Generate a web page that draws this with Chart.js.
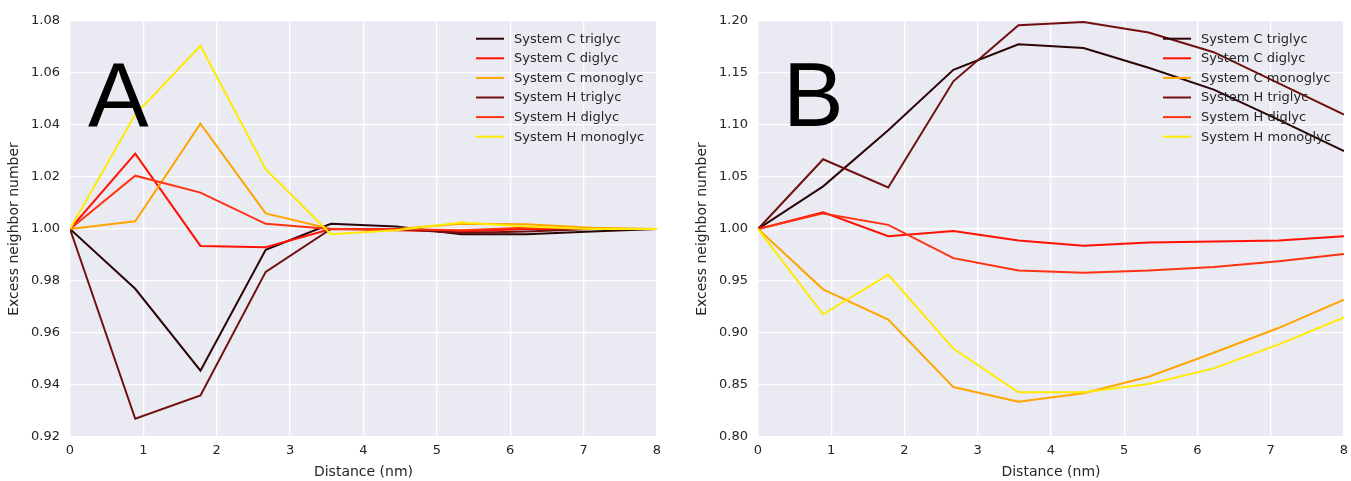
<!DOCTYPE html>
<html>
<head>
<meta charset="utf-8">
<script src="https://cdn.jsdelivr.net/npm/chart.js@4.4.1/dist/chart.umd.min.js"></script>
<style>
  html, body { margin: 0; padding: 0; background: #ffffff; }
  body { width: 1351px; height: 481px; position: relative; overflow: hidden; }
  .panel { position: absolute; top: 0; height: 481px; }
  #wrapA { left: 0; width: 675px; }
  #wrapB { left: 688px; width: 663px; }
</style>
</head>
<body>
<div class="panel" id="wrapA"><canvas id="chartA"></canvas></div>
<div class="panel" id="wrapB"><canvas id="chartB"></canvas></div>
<script>
// ---- data ----
const distances = [0, 0.889, 1.778, 2.667, 3.556, 4.444, 5.333, 6.222, 7.111, 8];
const seriesNames = ["System C triglyc", "System C diglyc", "System C monoglyc",
                     "System H triglyc", "System H diglyc", "System H monoglyc"];
const seriesColors = ["#2a0505", "#ff1205", "#ffa500", "#701010", "#ff3212", "#ffea00"];

// Panel A
const aCTriglyc  = [1.000, 0.977, 0.9455, 0.992, 1.002, 1.001, 0.998, 0.998, 0.999, 1.000];
const aCDiglyc   = [1.000, 1.029, 0.9935, 0.993, 1.000, 0.9995, 0.999, 1.000, 1.000, 1.000];
const aCMonoglyc = [1.000, 1.003, 1.0405, 1.006, 1.000, 1.000, 1.002, 1.0018, 1.0005, 1.000];
const aHTriglyc  = [1.000, 0.927, 0.936, 0.9835, 1.000, 1.000, 0.9985, 0.999, 1.000, 1.000];
const aHDiglyc   = [1.000, 1.0205, 1.014, 1.002, 1.000, 1.000, 0.9995, 1.0005, 1.000, 1.000];
const aHMonoglyc = [1.000, 1.044, 1.0705, 1.023, 0.998, 0.9995, 1.0025, 1.001, 1.000, 1.000];

// Panel B
const bCTriglyc  = [1.000, 1.041, 1.095, 1.153, 1.1776, 1.174, 1.155, 1.134, 1.105, 1.075];
const bCDiglyc   = [1.000, 1.016, 0.993, 0.998, 0.989, 0.984, 0.987, 0.988, 0.989, 0.993];
const bCMonoglyc = [1.000, 0.942, 0.913, 0.848, 0.834, 0.842, 0.858, 0.881, 0.905, 0.932];
const bHTriglyc  = [1.000, 1.067, 1.040, 1.142, 1.196, 1.199, 1.189, 1.170, 1.140, 1.110];
const bHDiglyc   = [1.000, 1.015, 1.004, 0.972, 0.960, 0.958, 0.960, 0.9635, 0.969, 0.976];
const bHMonoglyc = [1.000, 0.918, 0.956, 0.885, 0.843, 0.843, 0.851, 0.866, 0.889, 0.915];

const xTicks = [0, 1, 2, 3, 4, 5, 6, 7, 8];
const aYTicks = [0.92, 0.94, 0.96, 0.98, 1.00, 1.02, 1.04, 1.06, 1.08];
const bYTicks = [0.80, 0.85, 0.90, 0.95, 1.00, 1.05, 1.10, 1.15, 1.20];

const xTitle = "Distance (nm)";
const yTitle = "Excess neighbor number";

// ---- drawing ----
const TEXT = "#262626";
const FONT = "'DejaVu Sans', sans-serif";

function makeDatasets(arrs) {
  return arrs.map((vals, i) => ({
    label: seriesNames[i],
    data: vals.map((v, j) => ({ x: distances[j], y: v })),
    borderColor: seriesColors[i],
    backgroundColor: seriesColors[i],
    borderWidth: 2,
    pointRadius: 0,
    tension: 0,
    fill: false,
    order: arrs.length - i
  }));
}

const panelPlugin = {
  id: 'panelDecor',
  beforeDraw(chart) {
    const a = chart.chartArea, ctx = chart.ctx;
    ctx.save();
    ctx.fillStyle = '#eaeaf2';
    ctx.fillRect(a.left, a.top, a.right - a.left, a.bottom - a.top);
    ctx.restore();
  },
  afterDraw(chart, args, opts) {
    const a = chart.chartArea, ctx = chart.ctx;
    ctx.save();
    // panel letter
    ctx.fillStyle = '#000000';
    ctx.font = "91px 'Liberation Sans', Arial, sans-serif";
    ctx.textBaseline = 'alphabetic';
    ctx.textAlign = 'left';
    ctx.fillText(opts.letter, a.left + opts.letterDx, a.top + 105);
    // legend
    const x0 = a.right - 181;
    ctx.font = "13px " + FONT;
    ctx.textBaseline = 'middle';
    chart.data.datasets.forEach((ds, i) => {
      const y = a.top + 17.7 + i * 19.6;
      ctx.strokeStyle = ds.borderColor;
      ctx.lineWidth = 2;
      ctx.beginPath();
      ctx.moveTo(x0, y);
      ctx.lineTo(x0 + 28, y);
      ctx.stroke();
      ctx.fillStyle = TEXT;
      ctx.fillText(ds.label, x0 + 38, y + 0.5);
    });
    ctx.restore();
  }
};

function makeChart(id, arrs, yTicks, letter, letterDx, padRight) {
  const yMin = yTicks[0], yMax = yTicks[yTicks.length - 1];
  return new Chart(document.getElementById(id), {
    type: 'line',
    data: { datasets: makeDatasets(arrs) },
    plugins: [panelPlugin],
    options: {
      responsive: true,
      maintainAspectRatio: false,
      animation: false,
      layout: { padding: { top: 21, right: padRight, left: 0, bottom: 0 } },
      plugins: {
        legend: { display: false },
        tooltip: { enabled: false },
        panelDecor: { letter: letter, letterDx: letterDx }
      },
      scales: {
        x: {
          type: 'linear',
          min: 0, max: 8,
          afterFit(s) { s.height = 44; s.paddingRight = 0; s.paddingLeft = 0; },
          afterBuildTicks(s) { s.ticks = xTicks.map(v => ({ value: v })); },
          ticks: { color: TEXT, font: { family: FONT, size: 13 }, padding: 6,
                   callback: v => String(v) },
          grid: { color: '#ffffff', lineWidth: 1.3, drawTicks: false },
          border: { display: false },
          title: { display: true, text: xTitle, color: TEXT,
                   font: { family: FONT, size: 14 }, padding: { top: 0, bottom: 0 } }
        },
        y: {
          type: 'linear',
          min: yMin, max: yMax,
          afterFit(s) { s.width = 70; s.paddingTop = 0; s.paddingBottom = 0; },
          afterBuildTicks(s) { s.ticks = yTicks.map(v => ({ value: v })); },
          ticks: { color: TEXT, font: { family: FONT, size: 13 }, padding: 10,
                   callback: v => Number(v).toFixed(2) },
          grid: { color: '#ffffff', lineWidth: 1.3, drawTicks: false },
          border: { display: false },
          title: { display: true, text: yTitle, color: TEXT,
                   font: { family: FONT, size: 14 }, padding: { top: 6, bottom: 0 } }
        }
      }
    }
  });
}

makeChart('chartA', [aCTriglyc, aCDiglyc, aCMonoglyc, aHTriglyc, aHDiglyc, aHMonoglyc],
          aYTicks, 'A', 18, 18);
makeChart('chartB', [bCTriglyc, bCDiglyc, bCMonoglyc, bHTriglyc, bHDiglyc, bHMonoglyc],
          bYTicks, 'B', 25, 7);
</script>
</body>
</html>
